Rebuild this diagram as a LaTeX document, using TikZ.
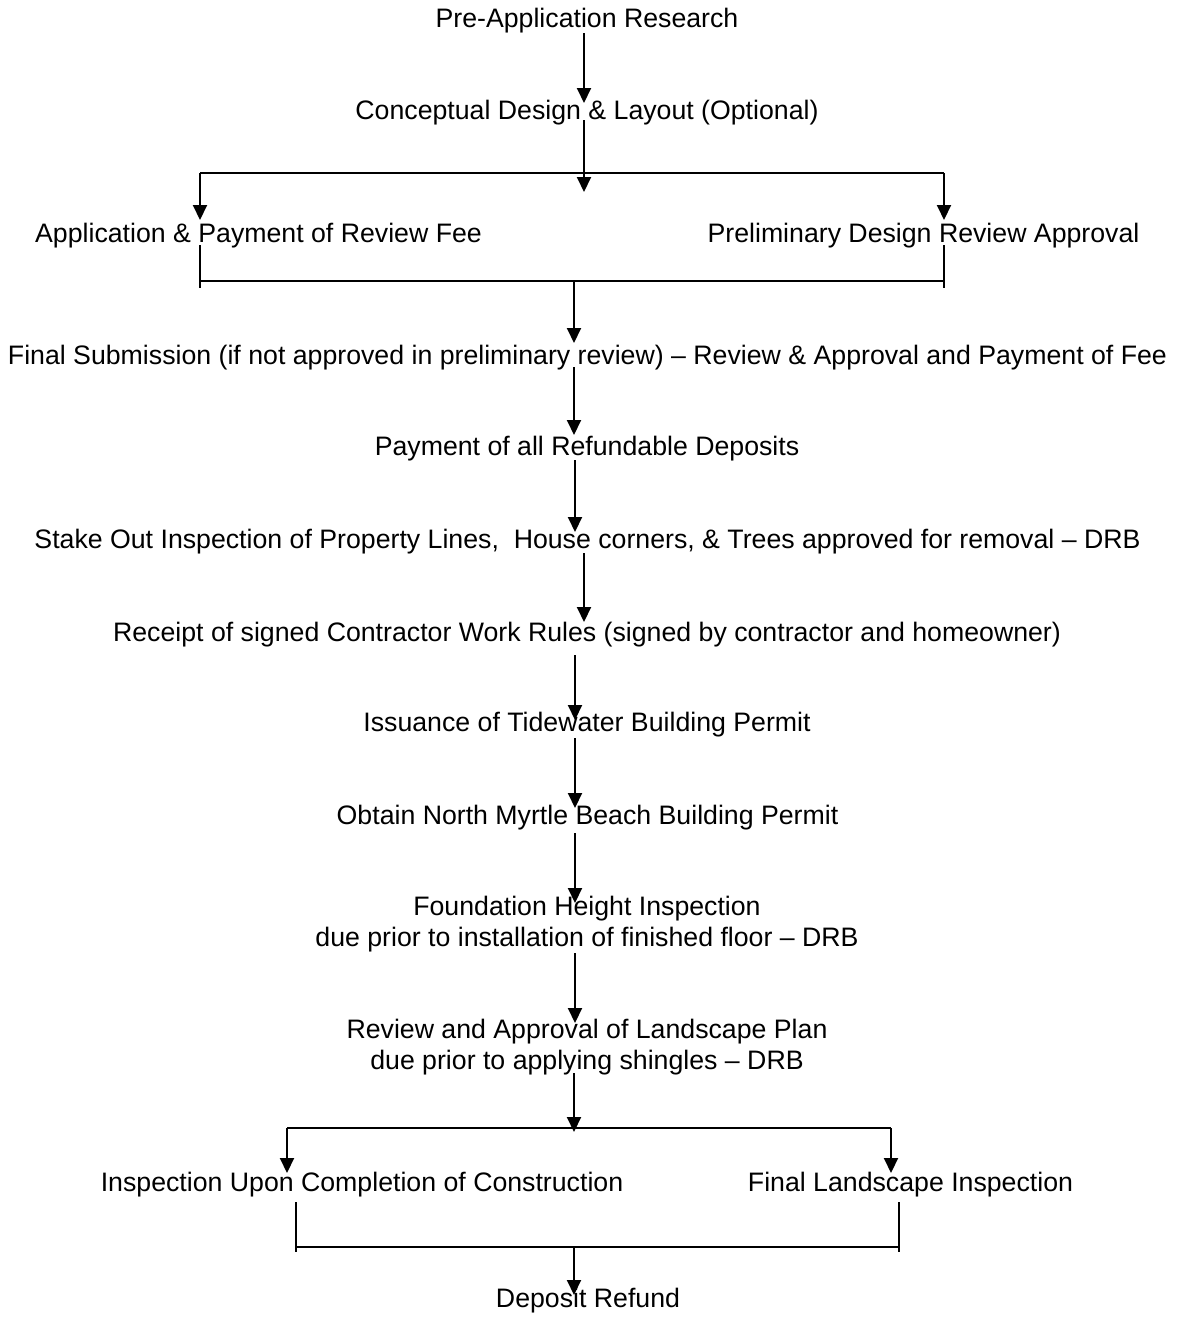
\documentclass[tikz,border=0pt]{standalone}
\usepackage{fontspec}
\setmainfont{Liberation Sans}
\usetikzlibrary{arrows.meta}
\begin{document}
\begin{tikzpicture}[x=1pt,y=-1pt,
  lbl/.style={anchor=base,inner sep=0pt,align=center,font=\fontsize{26.7}{31}\selectfont},
  arr/.style={line width=2pt,-{Triangle[width=14pt,length=15pt]}},
  bar/.style={line width=2pt},
  leg/.style={line width=1.3pt}]
\useasboundingbox[fill=white] (0,0) rectangle (1178,1320);
% text nodes
\node[lbl] (n1) at (587,27) {Pre-Application Research};
\node[lbl] (n2) at (587,119) {Conceptual Design \& Layout (Optional)};
\node[lbl] (n3a) at (258.5,242) {Application \& Payment of Review Fee};
\node[lbl] (n3b) at (923.5,242) {Preliminary Design Review Approval};
\node[lbl] (n4) at (587.5,364) {Final Submission (if not approved in preliminary review) – Review \& Approval and Payment of Fee};
\node[lbl] (n5) at (587,455) {Payment of all Refundable Deposits};
\node[lbl] (n6) at (587.5,548) {Stake Out Inspection of Property Lines,\ \ House corners, \& Trees approved for removal – DRB};
\node[lbl] (n7) at (587,641) {Receipt of signed Contractor Work Rules (signed by contractor and homeowner)};
\node[lbl] (n8) at (587,731) {Issuance of Tidewater Building Permit};
\node[lbl] (n9) at (587.5,824) {Obtain North Myrtle Beach Building Permit};
\node[lbl] (n10) at (587,946) {Foundation Height Inspection\\due prior to installation of finished floor – DRB};
\node[lbl] (n11) at (587,1069) {Review and Approval of Landscape Plan\\due prior to applying shingles – DRB};
\node[lbl] (n12a) at (362,1191) {Inspection Upon Completion of Construction};
\node[lbl] (n12b) at (910.5,1191) {Final Landscape Inspection};
\node[lbl] (n13) at (588,1307) {Deposit Refund};
% connector points
\coordinate (a1s) at (584,33);   \coordinate (a1e) at (584,103);
\coordinate (a2s) at (584,120);  \coordinate (a2e) at (584,192);
\coordinate (h1l) at (200,173);  \coordinate (h1r) at (944,173);
\coordinate (h1le) at (200,220); \coordinate (h1re) at (944,220);
\coordinate (b1lt) at (200,245); \coordinate (b1lb) at (200,288);
\coordinate (b1rt) at (944,245); \coordinate (b1rb) at (944,288);
\coordinate (b1l) at (200,281);  \coordinate (b1r) at (944,281);
\coordinate (a3s) at (574,281);  \coordinate (a3e) at (574,343);
\coordinate (a4s) at (574,367);  \coordinate (a4e) at (574,435);
\coordinate (a5s) at (575,460);  \coordinate (a5e) at (575,532);
\coordinate (a6s) at (584,553);  \coordinate (a6e) at (584,622);
\coordinate (a7s) at (575,655);  \coordinate (a7e) at (575,720);
\coordinate (a8s) at (575,738);  \coordinate (a8e) at (575,808);
\coordinate (a9s) at (575,833);  \coordinate (a9e) at (575,903);
\coordinate (a10s) at (575,953); \coordinate (a10e) at (575,1023);
\coordinate (a11s) at (574,1073);\coordinate (a11e) at (574,1132);
\coordinate (h2l) at (287,1128); \coordinate (h2r) at (891,1128);
\coordinate (h2le) at (287,1173);\coordinate (h2re) at (891,1173);
\coordinate (b2lt) at (296,1202);\coordinate (b2lb) at (296,1252);
\coordinate (b2rt) at (899,1202);\coordinate (b2rb) at (899,1252);
\coordinate (b2l) at (296,1247); \coordinate (b2r) at (899,1247);
\coordinate (a12s) at (574,1247);\coordinate (a12e) at (574,1295);
% connectors
\draw[arr] (a1s) -- (a1e);
\draw[arr] (a2s) -- (a2e);
\draw[bar] (h1l) -- (h1r);
\draw[arr] (h1l) -- (h1le);
\draw[arr] (h1r) -- (h1re);
\draw[leg] (b1lt) -- (b1lb);
\draw[leg] (b1rt) -- (b1rb);
\draw[bar] (b1l) -- (b1r);
\draw[arr] (a3s) -- (a3e);
\draw[arr] (a4s) -- (a4e);
\draw[arr] (a5s) -- (a5e);
\draw[arr] (a6s) -- (a6e);
\draw[arr] (a7s) -- (a7e);
\draw[arr] (a8s) -- (a8e);
\draw[arr] (a9s) -- (a9e);
\draw[arr] (a10s) -- (a10e);
\draw[arr] (a11s) -- (a11e);
\draw[bar] (h2l) -- (h2r);
\draw[arr] (h2l) -- (h2le);
\draw[arr] (h2r) -- (h2re);
\draw[leg] (b2lt) -- (b2lb);
\draw[leg] (b2rt) -- (b2rb);
\draw[bar] (b2l) -- (b2r);
\draw[arr] (a12s) -- (a12e);
\end{tikzpicture}
\end{document}
